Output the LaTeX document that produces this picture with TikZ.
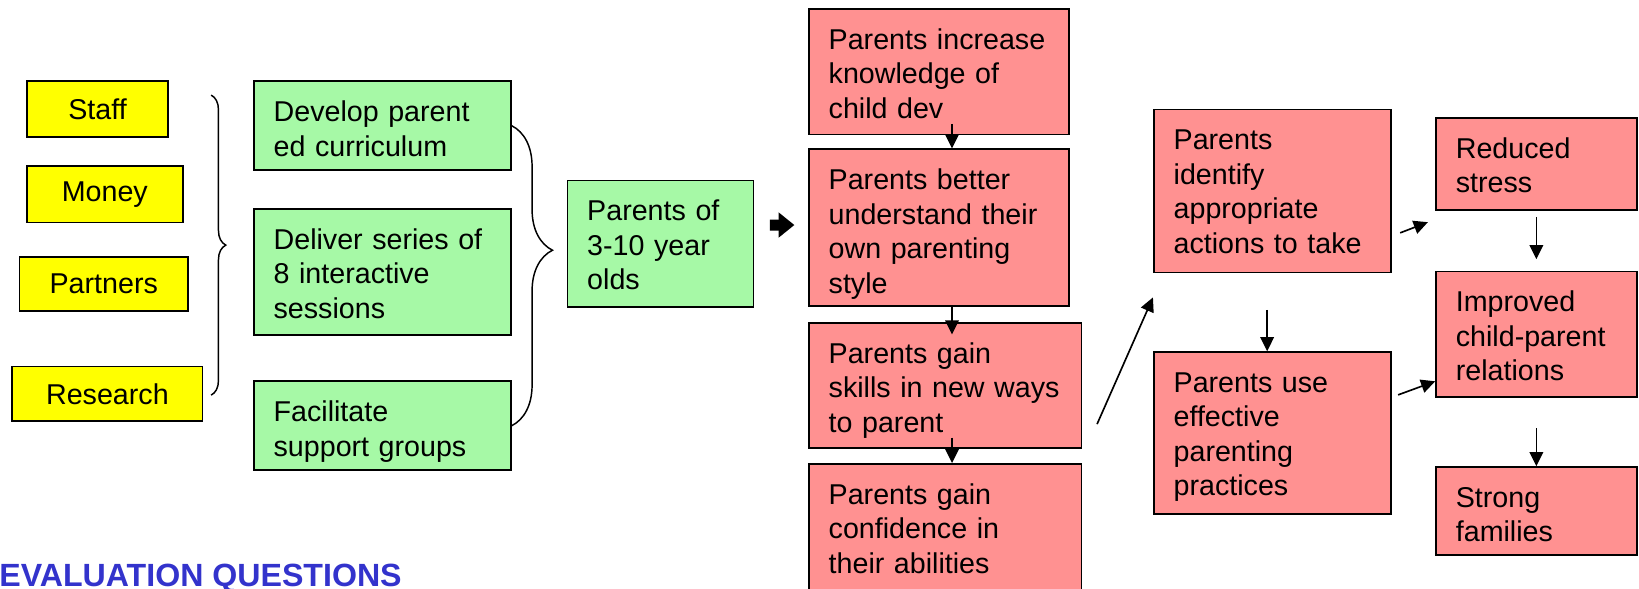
\documentclass[tikz,border=0pt]{standalone}
\usepackage[table]{xcolor}
\usepackage{fontspec}
\setmainfont{Liberation Sans}
\usepackage{tikz}
\usetikzlibrary{arrows,arrows.meta,backgrounds,calc,positioning,fit,decorations.pathreplacing}

\definecolor{inyellow}{RGB}{255,255,0}
\definecolor{actgreen}{RGB}{166,249,166}
\definecolor{outred}{RGB}{255,145,145}
\definecolor{evalblue}{RGB}{51,51,204}

\tikzset{
  base/.style={below right, draw=black, line width=0.9pt, font=\fontsize{15.6}{18.8}\selectfont},
  inbox/.style={base, fill=inyellow, align=center, inner sep=0pt},
  actbox/.style={base, fill=actgreen, align=left, inner xsep=0.38cm, inner ysep=0pt, text height=0.77cm},
  outbox/.style={base, fill=outred, align=left, inner xsep=0.38cm, inner ysep=0pt, text height=0.77cm},
  arr/.style={-{Triangle[length=0.27cm,width=0.26cm]}, line width=0.9pt},
  bigarr/.style={-{Triangle[length=0.30cm,width=0.46cm]}, line width=0.21cm},
  brc/.style={decorate, decoration={brace,amplitude=#1}, line width=0.8pt}
}

\begin{document}
\begin{tikzpicture}[x=0.02cm, y=-0.02cm]
\useasboundingbox (0,0) rectangle (1568,563);
\clip (0,0) rectangle (1568,563);

% inputs
\node[inbox, minimum width=2.70cm, minimum height=1.06cm] (staff) at (25,77) {Staff};
\node[inbox, minimum width=2.98cm, minimum height=1.08cm] (money) at (25,158) {Money};
\node[inbox, minimum width=3.22cm, minimum height=1.04cm] (partners) at (18,245) {Partners};
\node[inbox, minimum width=3.64cm, minimum height=1.04cm] (research) at (11,350) {Research};

% activities and participants
\node[actbox, text width=4.16cm, text depth=0.93cm] (develop) at (242,77) {Develop parent\\ed curriculum};
\node[actbox, text width=4.16cm, text depth=1.65cm] (deliver) at (242,199) {Deliver series of\\8 interactive\\sessions};
\node[actbox, text width=4.16cm, text depth=0.93cm] (facil) at (242,364) {Facilitate\\support groups};
\node[actbox, text width=2.80cm, text depth=1.65cm] (parents) at (542,172) {Parents of\\3-10 year\\olds};

% outcomes
\node[outbox, text width=4.22cm, text depth=1.63cm] (know) at (773,8) {Parents increase\\knowledge of\\child dev};
\node[outbox, text width=4.22cm, text depth=2.23cm] (ownstyle) at (773,142) {Parents better\\understand their\\own parenting\\style};
\node[outbox, text width=4.46cm, text depth=1.63cm] (skills) at (773,308) {Parents gain\\skills in new ways\\to parent};
\node[outbox, text width=4.46cm, text depth=1.73cm] (conf) at (773,443) {Parents gain\\confidence in\\their abilities};
\node[outbox, text width=3.78cm, text depth=2.35cm] (identify) at (1103,104) {Parents\\identify\\appropriate\\actions to take};
\node[outbox, text width=3.78cm, text depth=2.33cm] (practice) at (1103,336) {Parents use\\effective\\parenting\\practices};
\node[outbox, text width=3.08cm, text depth=0.99cm] (stress) at (1373,112) {Reduced\\stress};
\node[outbox, text width=3.08cm, text depth=1.63cm] (relations) at (1373,259) {Improved\\child-parent\\relations};
\node[outbox, text width=3.08cm, text depth=0.91cm] (families) at (1373,446) {Strong\\families};

\node[anchor=base west, inner sep=0pt, text=evalblue, font=\fontsize{17.5}{20}\selectfont\bfseries] (evalq) at (-1,561) {EVALUATION QUESTIONS};

% braces
\coordinate (lbtop) at (202,91);
\coordinate (lbbot) at (202,378);
\draw[brc=0.28cm] (lbtop) -- (lbbot);
\draw[brc=0.78cm, decoration={aspect=0.415}] (develop.east) -- (facil.east);

% arrows
\draw[bigarr] ($(parents.east)+(15,-18)$) -- ($(ownstyle.west)+(-13,-2.5)$);
\draw[arr] ($(know.south)+(12.5,-11)$) -- ($(ownstyle.north)+(12.5,0)$);
\draw[arr] ($(ownstyle.south)+(12.5,0)$) -- ($(skills.north)+(6.5,12)$);
\draw[arr] ($(skills.south)+(6.5,-11)$) -- ($(conf.north)+(6.5,0)$);
\draw[arr] ($(skills.east)+(14,37)$) -- ($(identify.south west)+(0,23)$);
\draw[arr] ($(identify.east)+(8,40)$) -- ($(stress.south west)+(-7,11)$);
\draw[arr] ($(identify.south)+(-5,35)$) -- ($(practice.north)+(-5,0)$);
\draw[arr] ($(practice.east)+(6,-36.5)$) -- ($(relations.west)+(0,45)$);
\draw[arr] ($(stress.south)+(0,6)$) -- ($(relations.north)+(0,-11)$);
\draw[arr] ($(relations.south)+(0,29)$) -- (families.north);
\end{tikzpicture}
\end{document}
